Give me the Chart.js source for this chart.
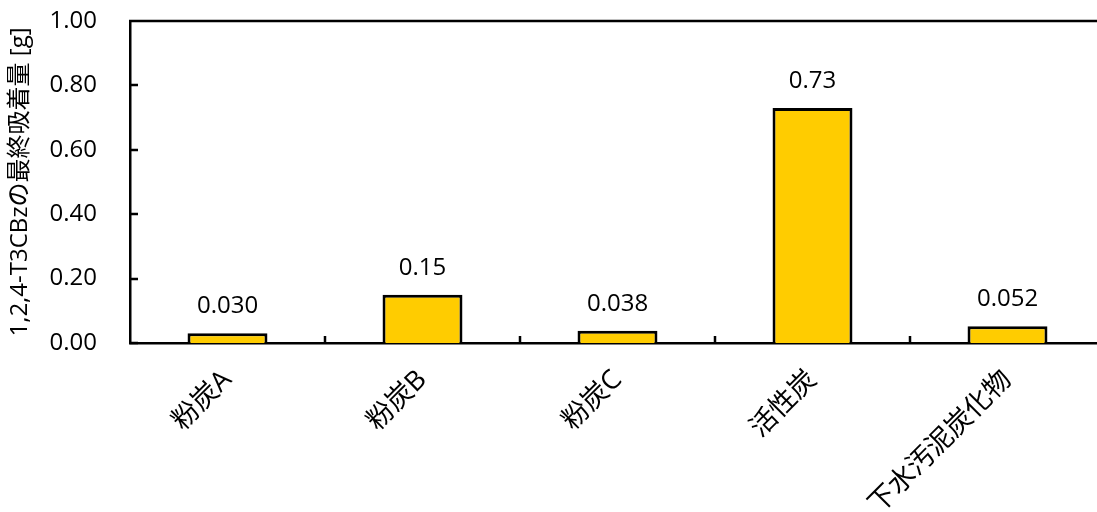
<!DOCTYPE html>
<html>
<head>
<meta charset="utf-8">
<script src="https://cdn.jsdelivr.net/npm/chart.js@4.4.1/dist/chart.umd.min.js"></script>
<style>
  html, body { margin: 0; padding: 0; background: #fff; overflow: hidden; }
  #wrap { width: 1120px; height: 512px; }
</style>
</head>
<body>
<div id="wrap"><canvas id="adsorptionChart" width="1120" height="512"></canvas></div>
<script>
// 吸着材ごとの最終吸着量
const categories = ['粉炭A', '粉炭B', '粉炭C', '活性炭', '下水汚泥炭化物'];
const adsorbed = [0.030, 0.15, 0.038, 0.73, 0.052];
const yTicks = [0, 0.2, 0.4, 0.6, 0.8, 1.0];

const FONT = "'Open Sans', 'Noto Sans CJK JP', sans-serif";

// frame line on top, inward tick marks, value labels over the bars
const decorations = {
    id: 'decorations',
    afterDraw(chart) {
        const ctx = chart.ctx;
        const area = chart.chartArea;
        const x = chart.scales.x;
        const y = chart.scales.y;
        ctx.save();
        ctx.strokeStyle = '#000';
        ctx.lineWidth = 2.5;
        ctx.beginPath();
        ctx.moveTo(area.left - 1, area.top);
        ctx.lineTo(area.right, area.top);
        yTicks.forEach(function(v) {
            const py = Math.round(y.getPixelForValue(v));
            ctx.moveTo(area.left, py);
            ctx.lineTo(area.left + 8, py);
        });
        for (let i = 0; i < categories.length; i++) {
            const px = Math.round((x.getPixelForValue(i) + x.getPixelForValue(i + 1)) / 2);
            ctx.moveTo(px, area.bottom);
            ctx.lineTo(px, area.bottom - 7);
        }
        ctx.stroke();

        ctx.fillStyle = '#000';
        ctx.font = '24px ' + FONT;
        ctx.textAlign = 'center';
        ctx.textBaseline = 'alphabetic';
        chart.getDatasetMeta(0).data.forEach(function(bar, i) {
            ctx.fillText(adsorbed[i].toPrecision(2), bar.x, bar.y - 20);
        });
        ctx.restore();
    }
};

new Chart(document.getElementById('adsorptionChart'), {
    type: 'bar',
    data: {
        labels: categories,
        datasets: [{
            data: adsorbed,
            backgroundColor: '#FFCC00',
            borderColor: '#000',
            borderWidth: 3,
            categoryPercentage: 1,
            barPercentage: 0.41
        }]
    },
    options: {
        responsive: false,
        animation: false,
        layout: { padding: { top: 21, right: 15, left: 0, bottom: 0 } },
        plugins: {
            legend: { display: false },
            tooltip: { enabled: false }
        },
        scales: {
            x: {
                grid: { display: false, drawTicks: false },
                border: { color: '#000', width: 2.5 },
                ticks: {
                    color: '#000',
                    font: { family: FONT, size: 27 },
                    minRotation: 45,
                    maxRotation: 45,
                    padding: 21
                },
                afterFit(scale) {
                    scale.height = 169;
                    scale.paddingLeft = 0;
                    scale.paddingRight = 0;
                }
            },
            y: {
                min: 0,
                max: 1,
                afterBuildTicks(scale) {
                    scale.ticks = yTicks.map(function(v) { return { value: v }; });
                },
                grid: { display: false, drawTicks: false },
                border: { color: '#000', width: 2.5 },
                ticks: {
                    color: '#000',
                    font: { family: FONT, size: 24 },
                    padding: 33,
                    callback: function(v) { return v.toFixed(2); }
                },
                title: {
                    display: true,
                    text: '1,2,4-T3CBzの最終吸着量 [g]',
                    color: '#000',
                    font: { family: FONT, size: 24 },
                    padding: { top: 6, bottom: 0 }
                },
                afterFit(scale) {
                    scale.width = 130;
                    scale.paddingTop = 0;
                    scale.paddingBottom = 0;
                }
            }
        }
    },
    plugins: [decorations]
});
</script>
</body>
</html>
